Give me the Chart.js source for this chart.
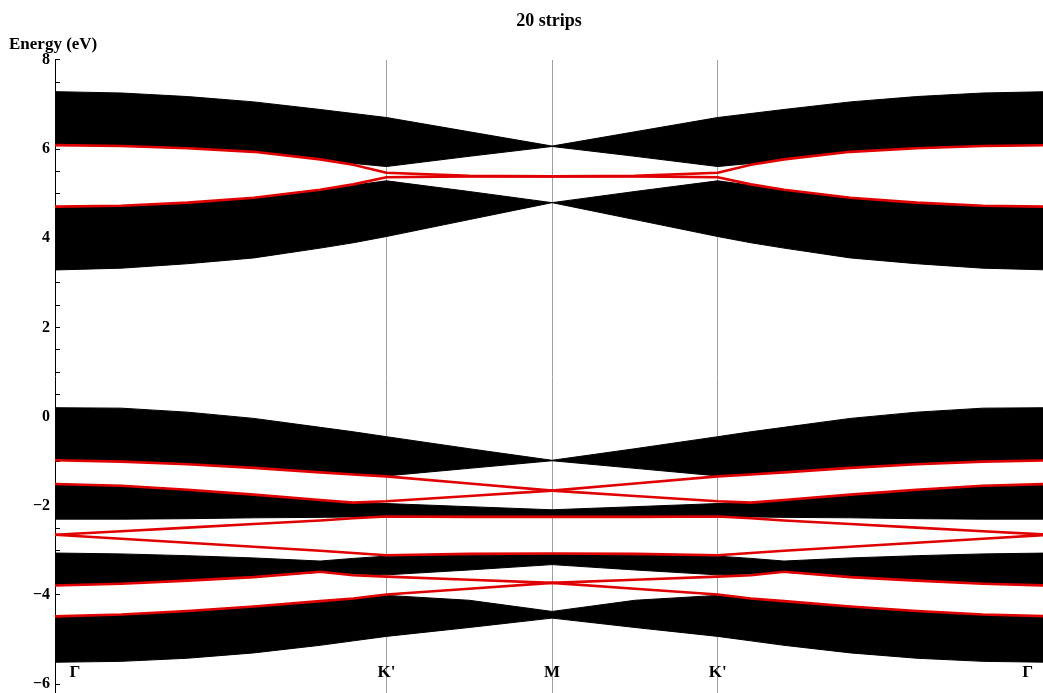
<!DOCTYPE html>
<html>
<head>
<meta charset="utf-8">
<script src="https://cdn.jsdelivr.net/npm/chart.js@4/dist/chart.umd.min.js"></script>
<style>
  body { margin: 0; background: #fff; }
</style>
</head>
<body>
<canvas id="bands" width="1043" height="693"></canvas>
<script>
// k path Γ -> K' -> M (the other half Γ <- K' <- M is its mirror)
const kHalf = [0, 0.4, 0.8, 1.2, 1.6, 1.8, 2, 2.5, 3];

const kTicks = [0.12, 2, 3, 4, 5.87];
const kTickLabels = ['Γ', "K'", 'M', "K'", 'Γ'];
const kLines = [2, 3, 4];

// bulk bands, upper and lower edge (eV) along Γ -> M
const band1Top = [7.29, 7.26, 7.18, 7.06, 6.89, 6.80, 6.71, 6.39, 6.07];
const band1Bot = [6.09, 6.07, 6.02, 5.94, 5.78, 5.68, 5.61, 5.84, 6.06];
const band2Top = [4.71, 4.73, 4.80, 4.91, 5.08, 5.19, 5.29, 5.05, 4.80];
const band2Bot = [3.29, 3.33, 3.43, 3.56, 3.78, 3.90, 4.04, 4.42, 4.80];
const band3Top = [0.20, 0.19, 0.10, -0.04, -0.24, -0.34, -0.45, -0.72, -0.98];
const band3Bot = [-0.98, -1.01, -1.07, -1.15, -1.25, -1.30, -1.33, -1.16, -0.99];
const band4Top = [-1.51, -1.55, -1.64, -1.75, -1.87, -1.93, -1.95, -2.02, -2.09];
const band4Bot = [-2.30, -2.30, -2.29, -2.27, -2.26, -2.25, -2.25, -2.25, -2.25];
const band5Top = [-3.06, -3.08, -3.12, -3.17, -3.24, -3.18, -3.13, -3.11, -3.10];
const band5Bot = [-3.79, -3.75, -3.68, -3.60, -3.49, -3.53, -3.55, -3.44, -3.32];
const band6Top = [-4.48, -4.44, -4.36, -4.26, -4.14, -4.08, -4.01, -4.12, -4.37];
const band6Bot = [-5.51, -5.49, -5.42, -5.30, -5.13, -5.03, -4.93, -4.73, -4.52];

// edge states (red), along Γ -> M
const edgeA = [6.09, 6.07, 6.02, 5.94, 5.77, 5.65, 5.47, 5.40, 5.39];
const edgeB = [4.71, 4.73, 4.80, 4.91, 5.09, 5.21, 5.37, 5.39, 5.39];
const edgeC = [-0.98, -1.01, -1.07, -1.15, -1.25, -1.30, -1.34, -1.50, -1.66];
const edgeD = [-1.51, -1.55, -1.64, -1.75, -1.87, -1.93, -1.90, -1.78, -1.66];
const edgeE = [-2.65, -2.57, -2.49, -2.41, -2.33, -2.28, -2.24, -2.25, -2.25];
const edgeF = [-2.65, -2.74, -2.83, -2.92, -3.01, -3.06, -3.11, -3.08, -3.07];
const edgeG = [-3.79, -3.75, -3.68, -3.60, -3.48, -3.56, -3.59, -3.66, -3.73];
const edgeH = [-4.48, -4.44, -4.36, -4.26, -4.14, -4.08, -3.99, -3.86, -3.73];

const RED = '#e10000';

// join a Γ->M half with the M->Γ half (second arg given Γ->M, defaults to the same curve)
function path(left, right) {
   right = right || left;
   const ks = kHalf.concat(kHalf.slice(0, -1).reverse().map(k => 6 - k));
   const ys = left.concat(right.slice(0, -1).reverse());
   return ks.map((k, i) => ({ x: k, y: ys[i] }));
}

function edge(left, right) {
   return {
      data: path(left, right),
      borderColor: RED,
      borderWidth: 2.6,
      fill: false,
      order: 0
   };
}

function bandPair(top, bot) {
   return [{
      data: path(top),
      borderColor: '#000',
      backgroundColor: '#000',
      borderWidth: 1,
      fill: '+1',
      order: 1
   }, {
      data: path(bot),
      borderColor: '#000',
      borderWidth: 1,
      fill: false,
      order: 1
   }];
}

const datasets = [].concat(
   bandPair(band1Top, band1Bot),
   bandPair(band2Top, band2Bot),
   bandPair(band3Top, band3Bot),
   bandPair(band4Top, band4Bot),
   bandPair(band5Top, band5Bot),
   bandPair(band6Top, band6Bot),
   [
      edge(edgeA), edge(edgeB),
      edge(edgeC, edgeD), edge(edgeD, edgeC),
      edge(edgeE), edge(edgeF),
      edge(edgeG, edgeH), edge(edgeH, edgeG)
   ]
);

const serif = 'Liberation Serif, Times New Roman, serif';

const config = {
   type: 'line',
   data: { datasets: datasets },
   options: {
      responsive: false,
      animation: false,
      layout: { padding: { left: 9, right: 0, top: 0, bottom: 0 } },
      elements: {
         point: { radius: 0 },
         line: { tension: 0 }
      },
      plugins: {
         legend: { display: false },
         tooltip: { enabled: false },
         title: {
            display: true,
            text: '20 strips',
            fullSize: false,
            color: '#000',
            font: { family: serif, size: 18, weight: 'bold' },
            padding: { top: 11, bottom: 0 }
         },
         subtitle: {
            display: true,
            text: 'Energy (eV)',
            align: 'start',
            color: '#000',
            font: { family: serif, size: 17, weight: 'bold' },
            padding: { top: 2, bottom: 5 }
         }
      },
      scales: {
         x: {
            type: 'linear',
            min: 0,
            max: 5.963,
            position: { y: -5.46 },
            afterBuildTicks: function (scale) {
               scale.ticks = kTicks.map(v => ({ value: v }));
            },
            afterFit: function (scale) {
               // labels sit inside the plot, so the axis takes no room of its own
               scale.height = 0;
            },
            ticks: {
               autoSkip: false,
               maxRotation: 0,
               padding: 2,
               color: '#000',
               font: { family: serif, size: 17, weight: 'bold' },
               callback: function (value, index) {
                  return kTickLabels[index];
               }
            },
            grid: {
               drawTicks: false,
               lineWidth: 1,
               color: function (ctx) {
                  return ctx.tick && kLines.includes(ctx.tick.value) ? '#a0a0a0' : 'rgba(0,0,0,0)';
               }
            },
            border: { display: false }
         },
         y: {
            type: 'linear',
            min: -6.2,
            max: 8,
            afterFit: function (scale) {
               scale.width = 46;
               scale.paddingTop = 0;
               scale.paddingBottom = 0;
            },
            ticks: {
               stepSize: 0.5,
               includeBounds: false,
               autoSkip: false,
               padding: 10,
               color: '#000',
               font: { family: serif, size: 16, weight: 'bold' },
               callback: function (value) {
                  if (Math.abs(value % 2) > 1e-9) return '';
                  return value < 0 ? '\u2212' + Math.abs(value) : String(value);
               }
            },
            grid: {
               drawOnChartArea: false,
               tickLength: -5,
               color: '#000'
            },
            border: { display: true, color: '#000', width: 1 }
         }
      }
   }
};

const myChart = new Chart(document.getElementById('bands'), config);
</script>
</body>
</html>
